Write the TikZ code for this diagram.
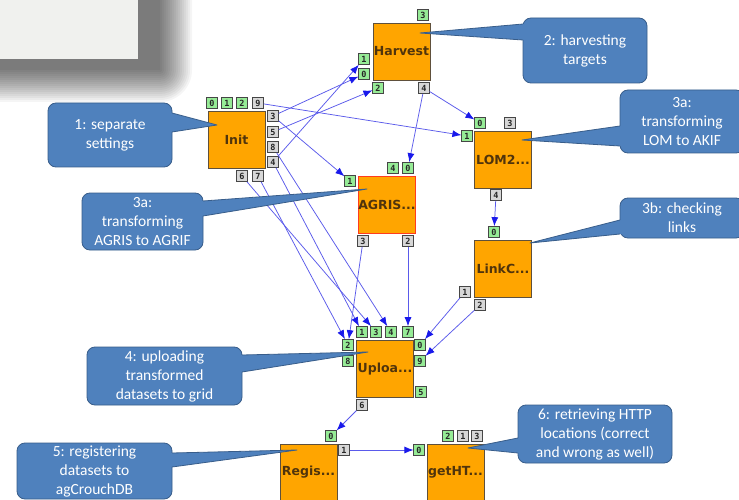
\documentclass[tikz,border=0pt]{standalone}
\usepackage{fontspec}
\setmainfont{DejaVu Sans}
\newfontfamily\callfont{Carlito}
\newfontfamily\boxfont{DejaVu Sans}
\newfontfamily\portfont{DejaVu Sans Mono}
\usetikzlibrary{arrows.meta}
\definecolor{blkfill}{RGB}{255,165,0}
\definecolor{blkline}{RGB}{95,80,60}
\definecolor{blktext}{RGB}{80,52,12}
\definecolor{redline}{RGB}{255,60,30}
\definecolor{pgreen}{RGB}{150,235,150}
\definecolor{pgray}{RGB}{215,215,215}
\definecolor{pline}{RGB}{70,70,70}
\definecolor{wirec}{RGB}{90,90,235}
\definecolor{tipc}{RGB}{25,25,235}
\definecolor{callfill}{RGB}{79,129,189}
\definecolor{callline}{RGB}{56,93,138}
\definecolor{panel}{RGB}{240,241,238}
\tikzset{
  blk/.style={draw=blkline, fill=blkfill, line width=0.9pt, minimum width=57pt, minimum height=57pt, inner sep=0pt,
    text=blktext, font=\boxfont\bfseries\fontsize{12.5}{14}\selectfont},
  portbase/.style={draw=pline, line width=0.7pt, minimum width=10.5pt, minimum height=11pt, inner sep=0pt,
    text=black!85, font=\portfont\bfseries\fontsize{8.5}{9}\selectfont},
  portg/.style={portbase, fill=pgreen},
  portw/.style={portbase, fill=pgray},
  wire/.style={draw=wirec, line width=0.75pt, -{Latex[length=9pt,width=7pt,color=tipc]}},
  callbox/.style={fill=callfill, draw=callline, line width=0.8pt, rounded corners=8pt, inner sep=0pt,
    align=center, text=white, font=\callfont\fontsize{15.5}{19}\selectfont},
  wedgefill/.style={fill=callfill},
  wedgeline/.style={draw=callline, line width=0.8pt, line join=round}
}
\begin{document}
\begin{tikzpicture}[x=1pt,y=-1pt]
\useasboundingbox (0,0) rectangle (739,500);
\clip (0,0) rectangle (739,500);
\fill[white] (0,0) rectangle (739,500);

% top-left panel with soft shadow
\foreach \r in {0,2,...,32} {
  \fill[black, opacity=0.038, rounded corners=\r pt+0.1pt] (-30-\r,-30-\r) rectangle (160+\r,70+\r);
}
\fill[panel] (0,0) rectangle (138,59);

% blocks
\node[blk] (init) at (236.5,139.5) {Init};
\node[blk] (harv) at (401.5,51.5) {Harvest};
\node[blk, draw=redline] (agris) at (387,205) {AGRIS...};
\node[blk] (lom) at (503,159.5) {LOM2...};
\node[blk] (link) at (503,268.5) {LinkC...};
\node[blk] (upl) at (385,369) {Uploa...};
\node[blk] (regis) at (308.5,472.5) {Regis...};
\node[blk] (geth) at (455.5,472.5) {getHT...};

% ports of Init
\node[portg] (i0) at (212,103) {0};
\node[portg] (i1) at (227,103) {1};
\node[portg] (i2) at (242,103) {2};
\node[portw] (i9) at (258,103) {9};
\node[portw] (i3) at (273,116) {3};
\node[portw] (i5) at (273,132) {5};
\node[portw] (i8) at (273,147) {8};
\node[portw] (i4) at (273,162) {4};
\node[portw] (i6) at (242,176) {6};
\node[portw] (i7) at (258,176) {7};
% ports of Harvest
\node[portg] (h3) at (423,15) {3};
\node[portg] (h1) at (364,59) {1};
\node[portg] (h0) at (364,74) {0};
\node[portg] (h2) at (378,88) {2};
\node[portw] (h4) at (424,88) {4};
% ports of AGRIS
\node[portg] (a1) at (350,181) {1};
\node[portg] (a4) at (393,168) {4};
\node[portg] (a0) at (408,168) {0};
\node[portw] (a3) at (363,241) {3};
\node[portw] (a2) at (408,241) {2};
% ports of LOM2
\node[portg] (l0) at (480,123) {0};
\node[portw] (l3) at (510,123) {3};
\node[portg] (l1) at (467,136) {1};
\node[portw] (l4) at (496,195) {4};
% ports of LinkC
\node[portg] (k0) at (494,232) {0};
\node[portw] (k1) at (465,292) {1};
\node[portw] (k2) at (480,305) {2};
% ports of Upload
\node[portg] (u1) at (362,332) {1};
\node[portg] (u3) at (376,332) {3};
\node[portg] (u4) at (391,332) {4};
\node[portg] (u7) at (408,332) {7};
\node[portg] (u2) at (348,345) {2};
\node[portg] (u8) at (348,361) {8};
\node[portg] (u0) at (420,345) {0};
\node[portg] (u9) at (420,361) {9};
\node[portg] (u5) at (421,392) {5};
\node[portw] (u6) at (362,405) {6};
% ports of Regis
\node[portg] (r0) at (331,436) {0};
\node[portw] (r1) at (344,450) {1};
% ports of getHT
\node[portg] (g2) at (448,436) {2};
\node[portw] (g1) at (463,436) {1};
\node[portw] (g3) at (477,436) {3};
\node[portg] (g0) at (419,450) {0};

% wires
\draw[wire] (i9) -- (l1);
\draw[wire] (i3) -- (h0);
\draw[wire] (i4) -- (h1);
\draw[wire] (i5) -- (h2);
\draw[wire] (i3) -- (a1);
\draw[wire] (i8) -- (u4);
\draw[wire] (i4) -- (u1);
\draw[wire] (i6) -- (u3);
\draw[wire] (i7) -- (u2);
\draw[wire] (h4) -- (a0);
\draw[wire] (h4) -- (l0);
\draw[wire] (a3) -- (u2);
\draw[wire] (a2) -- (u7);
\draw[wire] (l4) -- (k0);
\draw[wire] (k1) -- (u0);
\draw[wire] (k2) -- (u9);
\draw[wire] (u6) -- (r0);
\draw[wire] (r1) -- (g0);

% callouts
% 1
\node[callbox, minimum width=124pt, minimum height=64pt] (c1) at (110,135) {1: separate\\settings};
\coordinate (c1a) at (172,113); \coordinate (c1b) at (172,132); \coordinate (c1t) at (217,125);
\fill[wedgefill] (168,113) -- (c1a) -- (c1t) -- (c1b) -- (168,132) -- cycle;
\draw[wedgeline] (c1a) -- (c1t) -- (c1b);
% 2
\node[callbox, minimum width=124pt, minimum height=65pt] (c2) at (585,50.5) {2: harvesting\\targets};
\coordinate (c2a) at (523,24); \coordinate (c2b) at (523,40); \coordinate (c2t) at (420,33);
\fill[wedgefill] (527,24) -- (c2a) -- (c2t) -- (c2b) -- (527,40) -- cycle;
\draw[wedgeline] (c2a) -- (c2t) -- (c2b);
% 3a LOM
\node[callbox, minimum width=124pt, minimum height=63pt] (c3) at (682,121.5) {3a:\\transforming\\LOM to AKIF};
\coordinate (c3a) at (620,126); \coordinate (c3b) at (620,146); \coordinate (c3t) at (522,140);
\fill[wedgefill] (624,126) -- (c3a) -- (c3t) -- (c3b) -- (624,146) -- cycle;
\draw[wedgeline] (c3a) -- (c3t) -- (c3b);
% 3a AGRIS
\node[callbox, minimum width=121pt, minimum height=57pt] (c4) at (142.5,221.5) {3a:\\transforming\\AGRIS to AGRIF};
\coordinate (c4a) at (203,201); \coordinate (c4b) at (203,216); \coordinate (c4t) at (367,189);
\fill[wedgefill] (199,201) -- (c4a) -- (c4t) -- (c4b) -- (199,216) -- cycle;
\draw[wedgeline] (c4a) -- (c4t) -- (c4b);
% 3b
\node[callbox, minimum width=124pt, minimum height=40pt] (c5) at (682,218) {3b: checking\\links};
\coordinate (c5a) at (620,220); \coordinate (c5b) at (620,234); \coordinate (c5t) at (530,243);
\fill[wedgefill] (624,220) -- (c5a) -- (c5t) -- (c5b) -- (624,234) -- cycle;
\draw[wedgeline] (c5a) -- (c5t) -- (c5b);
% 4
\node[callbox, minimum width=155pt, minimum height=58pt] (c6) at (164.5,376) {4: uploading\\transformed\\datasets to grid};
\coordinate (c6a) at (242,355); \coordinate (c6b) at (242,372); \coordinate (c6t) at (368,352);
\fill[wedgefill] (238,355) -- (c6a) -- (c6t) -- (c6b) -- (238,372) -- cycle;
\draw[wedgeline] (c6a) -- (c6t) -- (c6b);
% 5
\node[callbox, minimum width=155pt, minimum height=56pt] (c7) at (94.5,471) {5: registering\\datasets to\\agCrouchDB};
\coordinate (c7a) at (172,453); \coordinate (c7b) at (172,467); \coordinate (c7t) at (297,450);
\fill[wedgefill] (168,453) -- (c7a) -- (c7t) -- (c7b) -- (168,467) -- cycle;
\draw[wedgeline] (c7a) -- (c7t) -- (c7b);
% 6
\node[callbox, minimum width=154pt, minimum height=58pt] (c8) at (595,434) {6: retrieving HTTP\\locations (correct\\and wrong as well)};
\coordinate (c8a) at (518,438); \coordinate (c8b) at (518,453); \coordinate (c8t) at (468,448);
\fill[wedgefill] (522,438) -- (c8a) -- (c8t) -- (c8b) -- (522,453) -- cycle;
\draw[wedgeline] (c8a) -- (c8t) -- (c8b);
\end{tikzpicture}
\end{document}
